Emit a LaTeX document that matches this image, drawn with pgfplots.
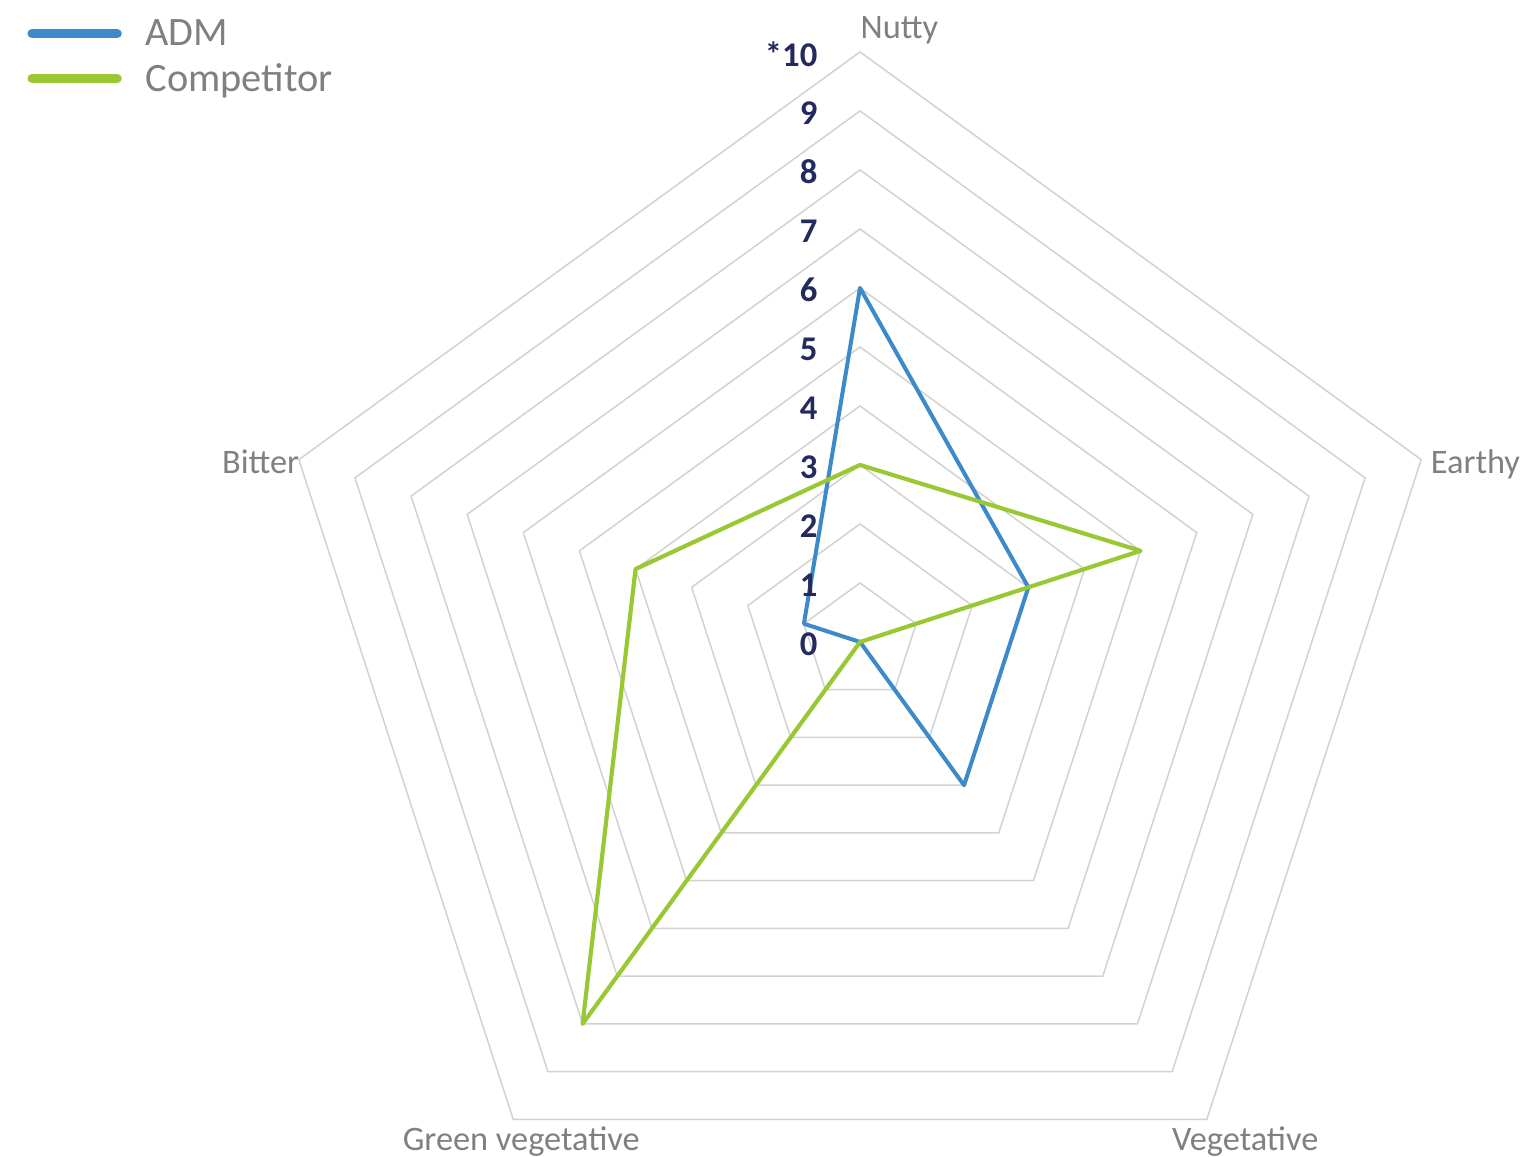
\documentclass[border=0pt]{standalone}
\usepackage{pgfplots}
\pgfplotsset{compat=1.18}
\usepgfplotslibrary{polar}
\usepackage{fontspec}
\setmainfont{Carlito}
\definecolor{admblue}{RGB}{60,138,202}
\definecolor{compgreen}{RGB}{154,200,52}
\definecolor{gridgray}{RGB}{210,210,210}
\definecolor{labelgray}{RGB}{128,128,128}
\definecolor{ticknavy}{RGB}{34,42,94}
\begin{document}
\begin{tikzpicture}
\begin{polaraxis}[
  width=354pt, height=354pt, scale only axis,
  hide axis, clip=false,
  ymin=0, ymax=10,
  xtick=\empty, ytick=\empty,
  legend style={at={(axis cs:143.24,17.613)}, anchor=north west, draw=none, fill=none,
    font=\fontsize{12.1}{14.4}\selectfont, text=labelgray,
    inner sep=0pt, outer sep=0pt, row sep=3.9pt, column sep=0pt,
    nodes={inner sep=0pt, outer sep=0pt}},
  legend cell align=left,
  legend image code/.code={
    \path (0pt,0pt) (33.4pt,0pt);
    \draw[#1, line width=2.8pt, line cap=round] (0pt,0.6pt) -- (25.5pt,0.6pt);
  },
]
\pgfplotsinvokeforeach{1,...,10}{
  \addplot[gridgray, line width=0.45pt, line join=miter, forget plot]
    coordinates {(90,#1) (18,#1) (-54,#1) (-126,#1) (162,#1)} -- cycle;
}
\addplot[admblue, line width=1.2pt, line join=round]
  coordinates {(90,6) (18,3) (-54,3) (-126,0) (162,1)} -- cycle;
\addlegendentry{ADM}
\addplot[compgreen, line width=1.25pt, line join=round]
  coordinates {(90,3) (18,5) (-54,0) (-126,8) (162,4)} -- cycle;
\addlegendentry{Competitor}
\pgfplotsinvokeforeach{0,...,9}{
  \node[anchor=east, inner sep=0pt, xshift=-12.6pt, yshift=-0.6pt, text=ticknavy,
        font=\fontsize{10.4}{12}\selectfont\bfseries] at (axis cs:90,#1) {#1};
}
\node[anchor=east, inner sep=0pt, xshift=-12.6pt, yshift=-0.6pt, text=ticknavy,
      font=\fontsize{10.4}{12}\selectfont\bfseries] at (axis cs:90,10) {*10};
\begin{scope}[every node/.style={inner sep=0pt, text=labelgray, font=\fontsize{10.3}{12}\selectfont}]
\node[anchor=base west, yshift=3.9pt] at (axis cs:90,10) {Nutty};
\node[anchor=base west, xshift=2.7pt, yshift=-4.2pt] at (axis cs:18,10) {Earthy};
\node[anchor=base, xshift=11.5pt, yshift=-9.3pt] at (axis cs:-54,10) {Vegetative};
\node[anchor=base, xshift=2.4pt, yshift=-9.3pt] at (axis cs:-126,10) {Green vegetative};
\node[anchor=base east, xshift=0.3pt, yshift=-4.2pt] at (axis cs:162,10) {Bitter};
\end{scope}
\coordinate (TL) at (axis cs:143.26,18.19);
\coordinate (BR) at (axis cs:-37.83,14.205);
\end{polaraxis}
\pgfresetboundingbox
\path[use as bounding box] (TL) rectangle (BR);
\end{tikzpicture}
\end{document}
